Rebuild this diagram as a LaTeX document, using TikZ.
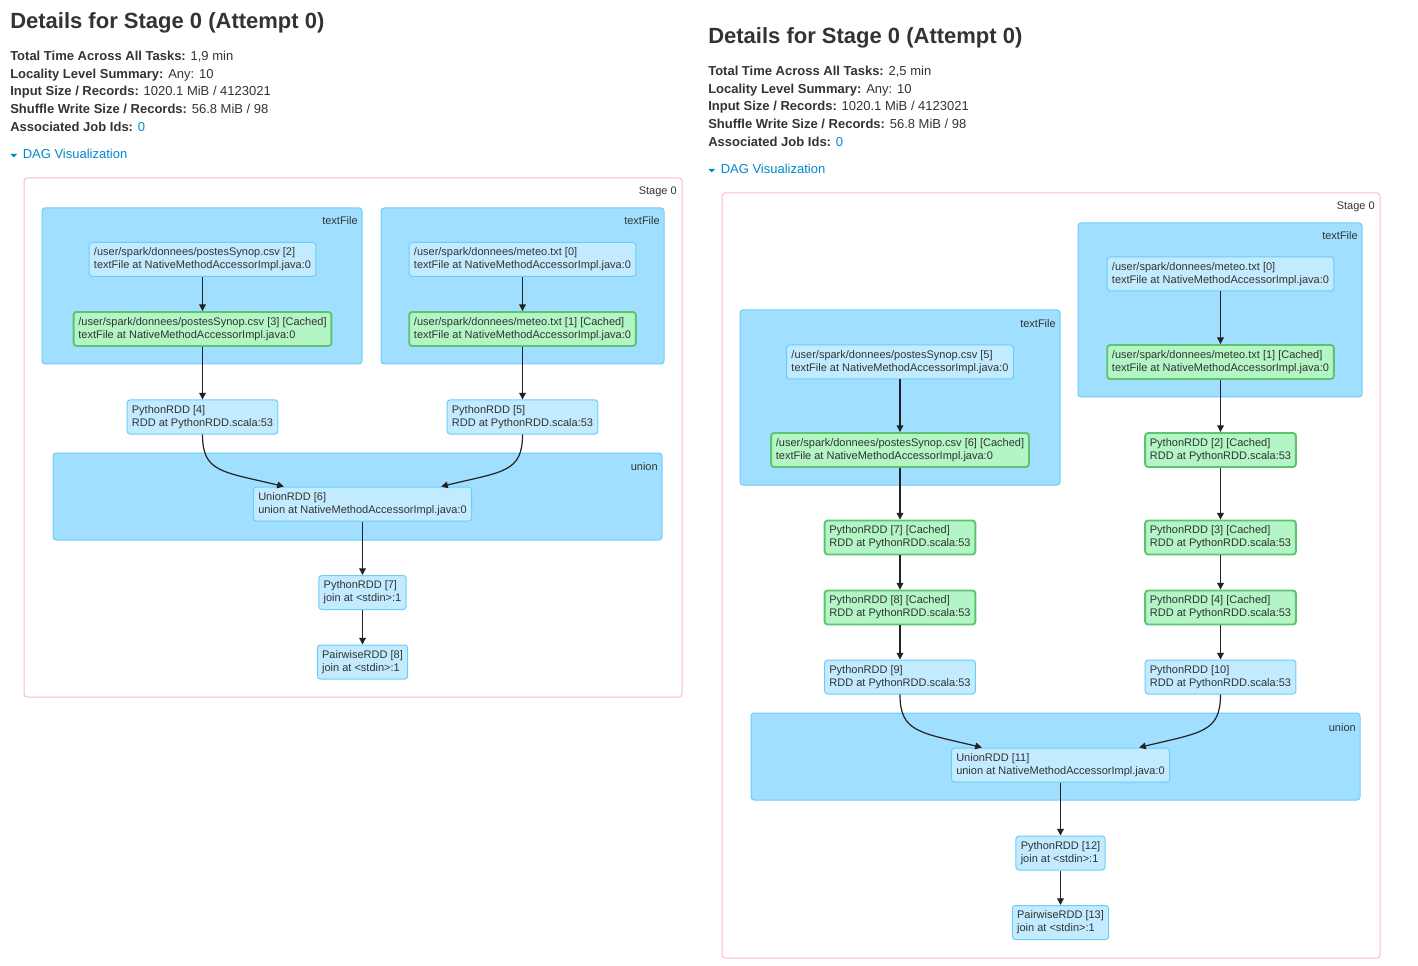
\documentclass[tikz,border=0pt]{standalone}
\usepackage{fontspec}
\setmainfont{Liberation Sans}
\usetikzlibrary{arrows.meta}
\definecolor{txt}{HTML}{333333}
\definecolor{linkblue}{HTML}{0088CC}
\definecolor{stageline}{HTML}{FFB8C6}
\definecolor{clusterfill}{HTML}{A0DFFF}
\definecolor{clusterline}{HTML}{6CCDF8}
\definecolor{nodefill}{HTML}{C3EBFF}
\definecolor{nodeline}{HTML}{6CCDF8}
\definecolor{cachefill}{HTML}{B3F5C5}
\definecolor{cacheline}{HTML}{5CC46E}
\definecolor{edgeline}{HTML}{222222}

\begin{document}
\begin{tikzpicture}[x=0.75pt,y=0.75pt,yscale=-1,xscale=1,
  every node/.style={text=txt},
  rdd/.style={draw=nodeline, fill=nodefill, rounded corners=2.25pt, line width=0.75pt, align=left, font=\fontsize{8.25}{9.75}\selectfont, inner xsep=3.6pt, inner ysep=0pt, minimum height=25.5pt},
  cached/.style={rdd, draw=cacheline, fill=cachefill, line width=1.4pt},
  cluster/.style={draw=clusterline, fill=clusterfill, rounded corners=2.25pt, line width=0.75pt},
  stagebox/.style={draw=stageline, rounded corners=2.25pt, line width=0.75pt},
  clabel/.style={anchor=base east, inner sep=0pt, font=\fontsize{8.25}{9.75}\selectfont},
  flow/.style={draw=edgeline, line width=0.9pt, -{Triangle[length=5pt,width=5pt]}},
  info/.style={anchor=base west, inner sep=0pt, font=\fontsize{9.75}{12}\selectfont},
  heading/.style={anchor=base west, inner sep=0pt, font=\fontsize{16.5}{20}\selectfont\bfseries},
  jobref/.style={info, text=linkblue}
]
\useasboundingbox (0,0) rectangle (1418,966);

%%%%%%%%%%%%%%%% left attempt %%%%%%%%%%%%%%%%
% Text Node
\node[heading] (ltitle) at (10,29) {Details for Stage 0 (Attempt 0)};
\node[info] (ltime) at (10,61) {\textbf{Total Time Across All Tasks:} 1,9 min};
\node[info] (lloc) at (10,78.5) {\textbf{Locality Level Summary:} Any: 10};
\node[info] (linput) at (10,96) {\textbf{Input Size / Records:} 1020.1 MiB / 4123021};
\node[info] (lshuffle) at (10,114) {\textbf{Shuffle Write Size / Records:} 56.8 MiB / 98};
\node[info] (ljobs) at (10,131.5) {\textbf{Associated Job Ids:} \textcolor{linkblue}{0}};
\fill[linkblue] (10.5,154) -- (17,154) -- (13.75,157.5) -- cycle;
\node[jobref] (ldag) at (22.5,158.5) {DAG Visualization};

% Stage box and clusters
\draw[stagebox] (24,178) rectangle (682,697);
\node[clabel] (lstage) at (677,195) {Stage 0};
\draw[cluster] (42,208) rectangle (362,364);
\node[clabel] (ltfa) at (358,225) {textFile};
\draw[cluster] (381,208) rectangle (664,364);
\node[clabel] (ltfb) at (660,225) {textFile};
\draw[cluster] (53,453) rectangle (662,540);
\node[clabel] (lunion) at (658,470) {union};

% RDD nodes
\node[rdd] (l2) at (202.5,259.5) {/user/spark/donnees/postesSynop.csv [2]\\textFile at NativeMethodAccessorImpl.java:0};
\node[cached] (l3) at (202.5,329) {/user/spark/donnees/postesSynop.csv [3] [Cached]\\textFile at NativeMethodAccessorImpl.java:0};
\node[rdd] (l0) at (522.5,259.5) {/user/spark/donnees/meteo.txt [0]\\textFile at NativeMethodAccessorImpl.java:0};
\node[cached] (l1) at (522.5,329) {/user/spark/donnees/meteo.txt [1] [Cached]\\textFile at NativeMethodAccessorImpl.java:0};
\node[rdd] (l4) at (202.5,417) {PythonRDD [4]\\RDD at PythonRDD.scala:53};
\node[rdd] (l5) at (522.5,417) {PythonRDD [5]\\RDD at PythonRDD.scala:53};
\node[rdd] (l6) at (362.5,504) {UnionRDD [6]\\union at NativeMethodAccessorImpl.java:0};
\node[rdd] (l7) at (362.5,592.5) {PythonRDD [7]\\join at <stdin>:1};
\node[rdd] (l8) at (362.5,662) {PairwiseRDD [8]\\join at <stdin>:1};

% Connectors
\draw[flow] (l2) -- (l3);
\draw[flow] (l0) -- (l1);
\draw[flow] (l3) -- (l4);
\draw[flow] (l1) -- (l5);
\draw[flow] (l4.south) .. controls +(0,38) and +(-62,-15) .. ([xshift=-59pt]l6.north);
\draw[flow] (l5.south) .. controls +(0,38) and +(62,-15) .. ([xshift=59pt]l6.north);
\draw[flow] (l6) -- (l7);
\draw[flow] (l7) -- (l8);

%%%%%%%%%%%%%%%% right attempt %%%%%%%%%%%%%%%%
% Text Node
\node[heading] (rtitle) at (708,44) {Details for Stage 0 (Attempt 0)};
\node[info] (rtime) at (708,76) {\textbf{Total Time Across All Tasks:} 2,5 min};
\node[info] (rloc) at (708,93.5) {\textbf{Locality Level Summary:} Any: 10};
\node[info] (rinput) at (708,111) {\textbf{Input Size / Records:} 1020.1 MiB / 4123021};
\node[info] (rshuffle) at (708,129) {\textbf{Shuffle Write Size / Records:} 56.8 MiB / 98};
\node[info] (rjobs) at (708,146.5) {\textbf{Associated Job Ids:} \textcolor{linkblue}{0}};
\fill[linkblue] (708.5,169) -- (715,169) -- (711.75,172.5) -- cycle;
\node[jobref] (rdag) at (720.5,173.5) {DAG Visualization};

% Stage box and clusters
\draw[stagebox] (722,193) rectangle (1380,958);
\node[clabel] (rstage) at (1375,210) {Stage 0};
\draw[cluster] (1078,223) rectangle (1362,397);
\node[clabel] (rtfa) at (1358,240) {textFile};
\draw[cluster] (740,310) rectangle (1060,485);
\node[clabel] (rtfb) at (1056,328) {textFile};
\draw[cluster] (751,713) rectangle (1360,800);
\node[clabel] (runion) at (1356,731) {union};

% RDD nodes
\node[rdd] (r0) at (1220.5,274) {/user/spark/donnees/meteo.txt [0]\\textFile at NativeMethodAccessorImpl.java:0};
\node[cached] (r1) at (1220.5,362) {/user/spark/donnees/meteo.txt [1] [Cached]\\textFile at NativeMethodAccessorImpl.java:0};
\node[rdd] (r5) at (900,362) {/user/spark/donnees/postesSynop.csv [5]\\textFile at NativeMethodAccessorImpl.java:0};
\node[cached] (r6) at (900,450) {/user/spark/donnees/postesSynop.csv [6] [Cached]\\textFile at NativeMethodAccessorImpl.java:0};
\node[cached] (r2) at (1220.5,450) {PythonRDD [2] [Cached]\\RDD at PythonRDD.scala:53};
\node[cached] (r7) at (900,537.5) {PythonRDD [7] [Cached]\\RDD at PythonRDD.scala:53};
\node[cached] (r3) at (1220.5,537.5) {PythonRDD [3] [Cached]\\RDD at PythonRDD.scala:53};
\node[cached] (r8) at (900,607.5) {PythonRDD [8] [Cached]\\RDD at PythonRDD.scala:53};
\node[cached] (r4) at (1220.5,607.5) {PythonRDD [4] [Cached]\\RDD at PythonRDD.scala:53};
\node[rdd] (r9) at (900,677) {PythonRDD [9]\\RDD at PythonRDD.scala:53};
\node[rdd] (r10) at (1220.5,677) {PythonRDD [10]\\RDD at PythonRDD.scala:53};
\node[rdd] (r11) at (1060.5,765) {UnionRDD [11]\\union at NativeMethodAccessorImpl.java:0};
\node[rdd] (r12) at (1060.5,853) {PythonRDD [12]\\join at <stdin>:1};
\node[rdd] (r13) at (1060.5,922.5) {PairwiseRDD [13]\\join at <stdin>:1};

% Connectors
\draw[flow] (r0) -- (r1);
\draw[flow] (r1) -- (r2);
\draw[flow] (r2) -- (r3);
\draw[flow] (r3) -- (r4);
\draw[flow] (r4) -- (r10);
\draw[flow] (r5) -- (r6);
\draw[flow] (r6) -- (r7);
\draw[flow] (r7) -- (r8);
\draw[flow] (r8) -- (r9);
\draw[flow] (r9.south) .. controls +(0,38) and +(-62,-15) .. ([xshift=-59pt]r11.north);
\draw[flow] (r10.south) .. controls +(0,38) and +(62,-15) .. ([xshift=59pt]r11.north);
\draw[flow] (r11) -- (r12);
\draw[flow] (r12) -- (r13);

\end{tikzpicture}
\end{document}
